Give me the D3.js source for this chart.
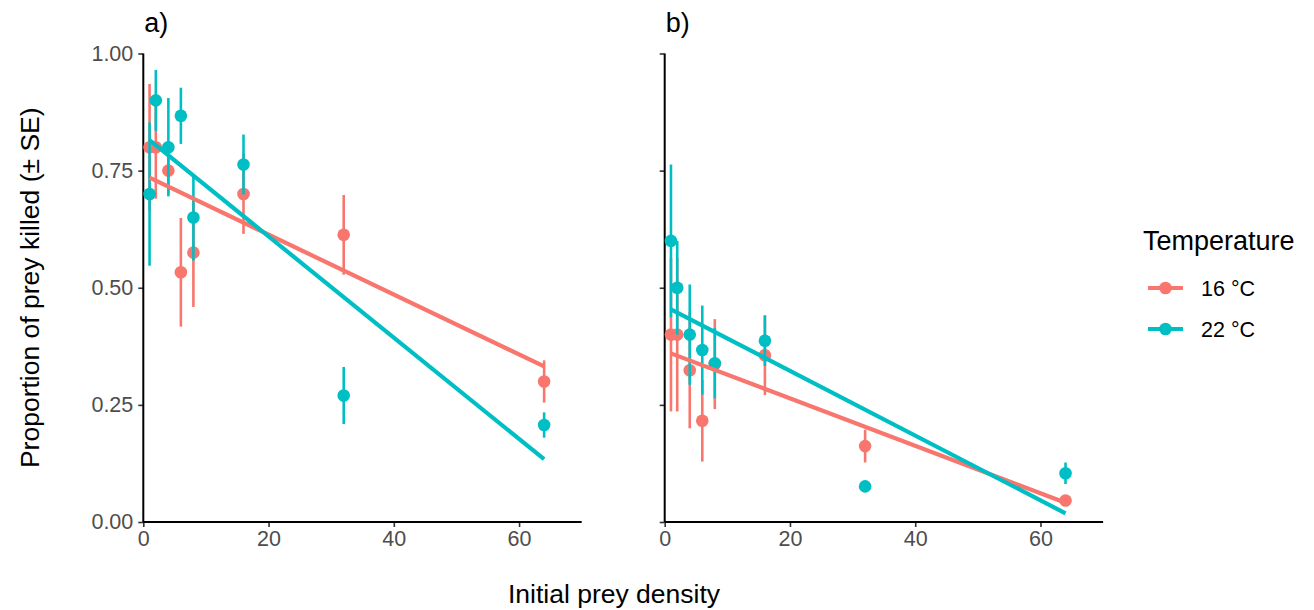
<!DOCTYPE html>
<meta charset="utf-8">
<style>
    body { margin: 0; background: #fff; }
    text { font-family: "Liberation Sans", Arial, sans-serif; }
    .domain { display: none; }
</style>

<svg width="1314" height="610"></svg>

<script src="https://cdn.jsdelivr.net/npm/d3@7/dist/d3.min.js"></script>
<script>
    // initial prey density (x) for every series
    var density = [1, 2, 4, 6, 8, 16, 32, 64];

    // panel a) proportions killed and standard errors
    var a16 = [0.80, 0.80, 0.75, 0.533, 0.575, 0.70, 0.613, 0.30],
        a16se = [0.135, 0.11, 0.05, 0.116, 0.116, 0.085, 0.085, 0.045],
        a22 = [0.70, 0.90, 0.80, 0.867, 0.65, 0.763, 0.27, 0.207],
        a22se = [0.153, 0.065, 0.105, 0.06, 0.092, 0.064, 0.061, 0.027];

    // panel b)
    var b16 = [0.40, 0.40, 0.324, 0.216, 0.337, 0.356, 0.162, 0.046],
        b16se = [0.164, 0.164, 0.124, 0.087, 0.096, 0.085, 0.035, 0.008],
        b22 = [0.60, 0.50, 0.40, 0.367, 0.339, 0.387, 0.076, 0.104],
        b22se = [0.163, 0.10, 0.107, 0.095, 0.075, 0.054, 0.012, 0.023];

    // fitted lines, value at x = 1 and x = 64
    var fitX = [1, 64],
        fitA16 = [0.735, 0.332],
        fitA22 = [0.815, 0.134],
        fitB16 = [0.360, 0.041],
        fitB22 = [0.454, 0.0185];

    var temps = ["16 °C", "22 °C"],
        colours = ["#F8766D", "#00BFC4"],
        xTicks = [0, 20, 40, 60],
        yTicks = [0, 0.25, 0.5, 0.75, 1];

    var svg = d3.select("svg"),
        plotTop = 53.5, plotBottom = 522, panelW = 438.4;

    var y = d3.scaleLinear().domain([0, 1]).range([plotBottom, plotTop]);

    var panels = [
        {label: "a)", left: 143.3, series: [[a16, a16se, fitA16], [a22, a22se, fitA22]], yLabels: true},
        {label: "b)", left: 664.7, series: [[b16, b16se, fitB16], [b22, b22se, fitB22]], yLabels: false}
    ];

    function styleAxis(sel) {
        sel.attr("font-family", null).attr("font-size", null);
        sel.selectAll(".tick text").attr("fill", "#4d4d4d").attr("font-size", 21.5);
        sel.selectAll(".tick line").attr("stroke", "#333").attr("stroke-width", 1.6);
    }

    panels.forEach(function (p) {
        var x = d3.scaleLinear().domain([0, 70]).range([0, panelW]);
        var g = svg.append("g").attr("transform", "translate(" + [p.left, 0] + ")");

        // axes
        g.append("g")
            .attr("transform", "translate(0," + plotBottom + ")")
            .call(d3.axisBottom(x).tickValues(xTicks).tickSize(5).tickPadding(4).tickFormat(d3.format("d")))
            .call(styleAxis);
        g.append("g")
            .call(d3.axisLeft(y).tickValues(yTicks).tickSize(5).tickPadding(5)
                .tickFormat(p.yLabels ? d3.format(".2f") : ""))
            .call(styleAxis);

        g.append("line")
            .attr("x1", 0).attr("x2", panelW)
            .attr("y1", plotBottom).attr("y2", plotBottom)
            .attr("stroke", "#000").attr("stroke-width", 2);
        g.append("line")
            .attr("x1", 0).attr("x2", 0)
            .attr("y1", plotTop).attr("y2", plotBottom)
            .attr("stroke", "#000").attr("stroke-width", 2);

        // error bars and points
        p.series.forEach(function (s, k) {
            var vals = s[0], se = s[1];
            var sg = g.append("g");
            sg.selectAll("line")
                .data(density)
                .enter()
                .append("line")
                .attr("x1", function (d) { return x(d); })
                .attr("x2", function (d) { return x(d); })
                .attr("y1", function (d, i) { return y(vals[i] - se[i]); })
                .attr("y2", function (d, i) { return y(vals[i] + se[i]); })
                .attr("stroke", colours[k])
                .attr("stroke-width", 2.6);
            sg.selectAll("circle")
                .data(density)
                .enter()
                .append("circle")
                .attr("cx", function (d) { return x(d); })
                .attr("cy", function (d, i) { return y(vals[i]); })
                .attr("r", 6.3)
                .attr("fill", colours[k]);
        });

        // fitted lines
        p.series.forEach(function (s, k) {
            var fit = s[2];
            g.append("path")
                .datum(fitX)
                .attr("d", d3.line()
                    .x(function (d) { return x(d); })
                    .y(function (d, i) { return y(fit[i]); }))
                .attr("fill", "none")
                .attr("stroke", colours[k])
                .attr("stroke-width", 4.2);
        });

        g.append("text")
            .attr("x", 1)
            .attr("y", 32)
            .attr("font-size", 27)
            .text(p.label);
    });

    // axis titles
    svg.append("text")
        .attr("x", 614)
        .attr("y", 603)
        .attr("text-anchor", "middle")
        .attr("font-size", 26.5)
        .text("Initial prey density");

    svg.append("text")
        .attr("transform", "translate(39," + ((plotTop + plotBottom) / 2) + ") rotate(-90)")
        .attr("text-anchor", "middle")
        .attr("font-size", 26.5)
        .text("Proportion of prey killed (± SE)");

    // legend
    var legend = svg.append("g").attr("transform", "translate(1143,0)");
    legend.append("text")
        .attr("x", 0)
        .attr("y", 250)
        .attr("font-size", 27)
        .text("Temperature");

    var keys = legend.selectAll(".key")
        .data(temps)
        .enter()
        .append("g")
        .attr("transform", function (d, i) { return "translate(0," + (288 + i * 41) + ")"; });
    keys.append("line")
        .attr("x1", 5).attr("x2", 40)
        .attr("stroke", function (d, i) { return colours[i]; })
        .attr("stroke-width", 4.2);
    keys.append("circle")
        .attr("cx", 22.5)
        .attr("r", 6.3)
        .attr("fill", function (d, i) { return colours[i]; });
    keys.append("text")
        .attr("x", 58)
        .attr("y", 8)
        .attr("font-size", 21.5)
        .text(function (d) { return d; });
</script>
